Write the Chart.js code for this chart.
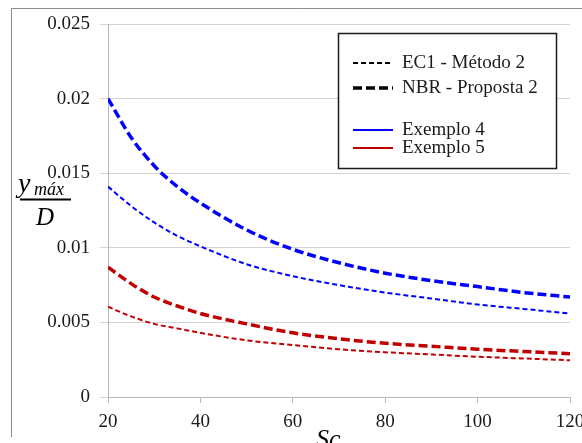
<!DOCTYPE html>
<html>
<head>
<meta charset="utf-8">
<script src="https://cdn.jsdelivr.net/npm/chart.js@4.4.1/dist/chart.umd.min.js"></script>
<style>
  html, body { margin: 0; padding: 0; background: #ffffff; }
  #wrap { width: 582px; height: 443px; position: relative; }
</style>
</head>
<body>
<div id="wrap"><canvas id="c" width="582" height="443"></canvas></div>
<script>
// ---- data ----
const sc = [20, 25, 30, 35, 40, 50, 60, 70, 80, 90, 100, 110, 120];
const ec1Ex4 = [0.0141, 0.0128, 0.0117, 0.0108, 0.0101, 0.0089, 0.0081, 0.0075, 0.0070, 0.0066, 0.0062, 0.0059, 0.0056];
const nbrEx4 = [0.0200, 0.0174, 0.0155, 0.0141, 0.0130, 0.0112, 0.0099, 0.0090, 0.0083, 0.0078, 0.0074, 0.0070, 0.0067];
const ec1Ex5 = [0.00605, 0.0054, 0.0049, 0.0046, 0.0043, 0.0038, 0.00348, 0.0032, 0.0030, 0.00285, 0.0027, 0.00258, 0.00246];
const nbrEx5 = [0.0087, 0.0076, 0.0067, 0.0061, 0.0056, 0.0049, 0.0043, 0.0039, 0.0036, 0.0034, 0.0032, 0.00305, 0.0029];
const xTicks = [20, 40, 60, 80, 100, 120];
const yTicks = [0, 0.005, 0.01, 0.015, 0.02, 0.025];
const yTickLabels = ['0', '0.005', '0.01', '0.015', '0.02', '0.025'];
const legendLabels = ['EC1 - Método 2', 'NBR - Proposta 2', 'Exemplo 4', 'Exemplo 5'];

const BLUE = '#0000ff';
const RED = '#c00000';
const SERIF = '"Liberation Serif", "Times New Roman", serif';

function pts(ys) { return sc.map((x, i) => ({ x: x, y: ys[i] })); }

const thin = { borderWidth: 2, borderDash: [5, 3] };
const thick = { borderWidth: 3.5, borderDash: [9, 4] };

const datasets = [
  Object.assign({ label: 'EC1 Exemplo 4', data: pts(ec1Ex4), borderColor: BLUE }, thin),
  Object.assign({ label: 'NBR Exemplo 4', data: pts(nbrEx4), borderColor: BLUE }, thick),
  Object.assign({ label: 'EC1 Exemplo 5', data: pts(ec1Ex5), borderColor: RED }, thin),
  Object.assign({ label: 'NBR Exemplo 5', data: pts(nbrEx5), borderColor: RED }, thick)
];
datasets.forEach(d => {
  d.pointRadius = 0;
  d.fill = false;
  d.cubicInterpolationMode = 'monotone';
  d.borderCapStyle = 'butt';
});

const framePlugin = {
  id: 'frame',
  beforeDraw(chart) {
    const ctx = chart.ctx;
    ctx.save();
    ctx.fillStyle = '#ffffff';
    ctx.fillRect(0, 0, chart.width, chart.height);
    ctx.strokeStyle = '#8c8c8c';
    ctx.lineWidth = 1;
    ctx.beginPath();
    ctx.moveTo(11.5, 437);
    ctx.lineTo(11.5, 8.5);
    ctx.lineTo(chart.width, 8.5);
    ctx.stroke();
    ctx.restore();
  }
};

const extrasPlugin = {
  id: 'extras',
  afterDraw(chart) {
    const ctx = chart.ctx;
    ctx.save();
    // legend box
    const bx = 338.5, by = 33.5, bw = 218, bh = 135;
    ctx.fillStyle = '#ffffff';
    ctx.fillRect(bx, by, bw, bh);
    ctx.strokeStyle = '#1a1a1a';
    ctx.lineWidth = 1.5;
    ctx.setLineDash([]);
    ctx.strokeRect(bx, by, bw, bh);

    const rows = [
      { y: 63, color: '#000000', w: 2, dash: [5, 3] },
      { y: 88, color: '#000000', w: 3.5, dash: [9, 4] },
      { y: 130, color: BLUE, w: 2, dash: [] },
      { y: 148, color: RED, w: 2, dash: [] }
    ];
    ctx.font = '19px ' + SERIF;
    ctx.textBaseline = 'middle';
    ctx.textAlign = 'left';
    rows.forEach((r, i) => {
      ctx.beginPath();
      ctx.strokeStyle = r.color;
      ctx.lineWidth = r.w;
      ctx.setLineDash(r.dash);
      ctx.moveTo(353, r.y);
      ctx.lineTo(393, r.y);
      ctx.stroke();
      ctx.fillStyle = '#1a1a1a';
      ctx.fillText(legendLabels[i], 402, r.y);
    });
    ctx.setLineDash([]);

    // y-axis title as fraction: y_máx / D
    ctx.fillStyle = '#000000';
    ctx.textBaseline = 'alphabetic';
    ctx.font = 'italic 28px ' + SERIF;
    ctx.fillText('y', 18, 192);
    ctx.font = 'italic 18px ' + SERIF;
    ctx.fillText('máx', 34, 195);
    ctx.beginPath();
    ctx.strokeStyle = '#000000';
    ctx.lineWidth = 2;
    ctx.moveTo(20, 199.5);
    ctx.lineTo(71, 199.5);
    ctx.stroke();
    ctx.font = 'italic 25px ' + SERIF;
    ctx.fillText('D', 36, 225);

    // x-axis title
    ctx.font = 'italic 26px ' + SERIF;
    ctx.fillText('Sc', 316, 447);
    ctx.restore();
  }
};

new Chart(document.getElementById('c'), {
  type: 'line',
  data: { datasets: datasets },
  plugins: [framePlugin, extrasPlugin],
  options: {
    responsive: false,
    animation: false,
    devicePixelRatio: 1,
    layout: { padding: { left: 0, top: 24, right: 12, bottom: 0 } },
    plugins: { legend: { display: false }, tooltip: { enabled: false } },
    scales: {
      x: {
        type: 'linear',
        min: 20,
        max: 120,
        afterBuildTicks(scale) { scale.ticks = xTicks.map(v => ({ value: v })); },
        afterFit(scale) { scale.height = 46; scale.paddingLeft = 0; scale.paddingRight = 0; },
        grid: { drawOnChartArea: false, drawTicks: true, tickLength: 6, color: '#b8b8b8', lineWidth: 1 },
        border: { display: true, color: '#b8b8b8', width: 1 },
        ticks: {
          color: '#1a1a1a',
          font: { family: SERIF, size: 19 },
          padding: 8,
          maxRotation: 0,
          autoSkip: false,
          callback: (v) => String(v)
        }
      },
      y: {
        type: 'linear',
        min: 0,
        max: 0.025,
        afterBuildTicks(scale) { scale.ticks = yTicks.map(v => ({ value: v })); },
        afterFit(scale) { scale.width = 108; scale.paddingTop = 0; scale.paddingBottom = 0; },
        grid: { drawOnChartArea: true, drawTicks: true, tickLength: 8, color: '#d4d4d4', lineWidth: 1 },
        border: { display: true, color: '#b8b8b8', width: 1 },
        ticks: {
          color: '#1a1a1a',
          font: { family: SERIF, size: 19 },
          padding: 10,
          autoSkip: false,
          callback: (v, i) => yTickLabels[i]
        }
      }
    }
  }
});
</script>
</body>
</html>
